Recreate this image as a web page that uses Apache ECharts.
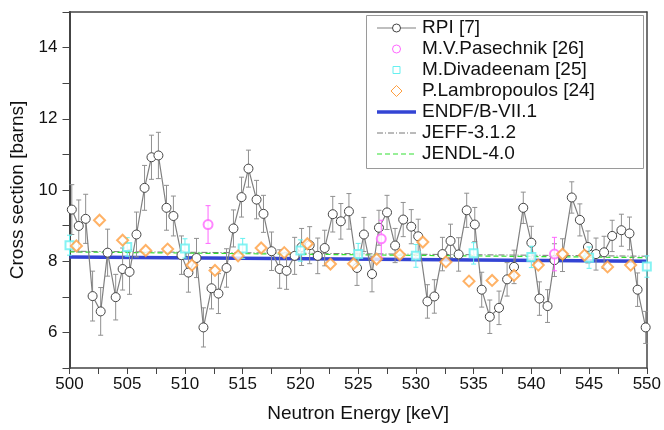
<!DOCTYPE html>
<html>
<head>
<meta charset="UTF-8">
<title>Cross section vs neutron energy</title>
<script src="https://cdn.jsdelivr.net/npm/echarts@6/dist/echarts.min.js"></script>
<style>
  html, body { margin: 0; padding: 0; background: #fff; }
  #chart { width: 664px; height: 430px; }
</style>
</head>
<body>
<div id="chart"></div>
<script>
// RPI [7] measurement
const rpiEnergy = [500.2, 500.8, 501.4, 502.0, 502.7, 503.3, 504.0, 504.6, 505.2, 505.8,
  506.5, 507.1, 507.7, 508.4, 509.0, 509.7, 510.3, 511.0, 511.6, 512.3,
  512.9, 513.6, 514.2, 514.9, 515.5, 516.2, 516.8, 517.5, 518.2, 518.8,
  519.5, 520.1, 520.8, 521.5, 522.1, 522.8, 523.5, 524.2, 524.9, 525.5,
  526.2, 526.8, 527.5, 528.2, 528.9, 529.6, 530.2, 531.0, 531.6, 532.3,
  533.0, 533.7, 534.4, 535.1, 535.7, 536.4, 537.2, 537.9, 538.5, 539.3,
  540.0, 540.7, 541.4, 542.0, 542.7, 543.5, 544.2, 544.9, 545.6, 546.3,
  547.0, 547.8, 548.5, 549.2, 549.9];
const rpiValue = [9.45, 8.99, 9.19, 7.02, 6.59, 8.24, 6.99, 7.78, 7.70, 8.75,
  10.06, 10.92, 10.97, 9.50, 9.27, 8.17, 7.68, 8.09, 6.14, 7.24,
  7.09, 7.81, 8.92, 9.80, 10.60, 9.73, 9.33, 8.28, 7.78, 7.73,
  8.15, 8.40, 8.45, 8.15, 8.37, 9.32, 9.12, 9.40, 7.81, 8.75,
  7.64, 8.94, 9.37, 8.44, 9.17, 8.97, 8.70, 6.87, 7.01, 8.20,
  8.57, 8.19, 9.43, 9.03, 7.20, 6.44, 6.69, 7.49, 7.84, 9.50,
  8.52, 6.95, 6.74, 8.03, 8.17, 9.79, 9.16, 8.40, 8.20, 8.25,
  8.71, 8.87, 8.78, 7.20, 6.14];
const rpiError = [0.70, 0.73, 0.69, 0.70, 0.67, 0.66, 0.64, 0.59, 0.63, 0.63,
  0.63, 0.62, 0.65, 0.63, 0.56, 0.54, 0.55, 0.55, 0.55, 0.58,
  0.56, 0.54, 0.52, 0.56, 0.52, 0.54, 0.52, 0.54, 0.54, 0.52,
  0.52, 0.52, 0.52, 0.50, 0.50, 0.50, 0.50, 0.50, 0.49, 0.48,
  0.50, 0.49, 0.48, 0.48, 0.48, 0.48, 0.48, 0.47, 0.47, 0.47,
  0.47, 0.47, 0.48, 0.48, 0.49, 0.47, 0.47, 0.47, 0.47, 0.44,
  0.46, 0.47, 0.46, 0.46, 0.46, 0.44, 0.45, 0.45, 0.45, 0.45,
  0.44, 0.45, 0.46, 0.47, 0.45];

// M.V.Pasechnik [26]
const pasEnergy = [512.0, 527.0, 542.0];
const pasValue = [9.03, 8.63, 8.20];
const pasError = [0.53, 0.52, 0.47];

// M.Divadeenam [25]
const divEnergy = [500, 505, 510, 515, 520, 525, 530, 535, 540, 545, 550];
const divValue = [8.45, 8.40, 8.36, 8.36, 8.30, 8.20, 8.15, 8.22, 8.12, 8.10, 7.85];
const divError = [0.28, 0.26, 0.27, 0.28, 0.30, 0.30, 0.32, 0.30, 0.30, 0.30, 0.30];

// P.Lambropoulos [24]
const lamEnergy = [500.6, 502.6, 504.6, 506.6, 508.5, 510.6, 512.6, 514.6, 516.6, 518.6,
  520.6, 522.6, 524.6, 526.6, 528.6, 530.6, 532.6, 534.6, 536.6, 538.5,
  540.6, 542.7, 544.6, 546.6, 548.6];
const lamValue = [8.43, 9.15, 8.59, 8.30, 8.34, 7.89, 7.74, 8.15, 8.37, 8.24,
  8.49, 7.92, 7.93, 8.06, 8.18, 8.54, 7.98, 7.44, 7.46, 7.60,
  7.89, 8.20, 8.17, 7.84, 7.89];

// evaluations
const evalEnergy = [500, 550];
const endfValue = [8.12, 8.00];
const jeffValue = [8.28, 8.14];
const jendlValue = [8.26, 8.10];

const FONT = 'Liberation Sans, Arial, sans-serif';
const C_RPI = '#808080', C_RPI_EDGE = '#444', C_PAS = '#ff66ff', C_DIV = '#66f0f0',
  C_LAM = '#ff9f40', C_ENDF = '#3344d4', C_JEFF = '#777', C_JENDL = '#33e033';
const DASH_JEFF = [6, 2, 1, 2], DASH_JENDL = [5, 3];

function pairs(xs, ys) {
  return xs.map((x, i) => [x, ys[i]]);
}
function bars(xs, ys, es) {
  return xs.map((x, i) => [x, ys[i] - es[i], ys[i] + es[i]]);
}

// error bar with small caps
function errorBar(color) {
  return function (params, api) {
    const x = api.value(0);
    const lo = api.coord([x, api.value(1)]);
    const hi = api.coord([x, api.value(2)]);
    const cap = 2.5;
    const style = { stroke: color, lineWidth: 1 };
    return {
      type: 'group',
      children: [
        { type: 'line', shape: { x1: lo[0], y1: lo[1], x2: hi[0], y2: hi[1] }, style: style },
        { type: 'line', shape: { x1: lo[0] - cap, y1: lo[1], x2: lo[0] + cap, y2: lo[1] }, style: style },
        { type: 'line', shape: { x1: hi[0] - cap, y1: hi[1], x2: hi[0] + cap, y2: hi[1] }, style: style }
      ]
    };
  };
}

// legend drawn by hand so the keys look like the original
const legendLabels = ['RPI [7]', 'M.V.Pasechnik [26]', 'M.Divadeenam [25]', 'P.Lambropoulos [24]',
  'ENDF/B-VII.1', 'JEFF-3.1.2', 'JENDL-4.0'];

function legendGraphic() {
  const box = { x: 366, y: 15, w: 277, h: 153 };
  const x1 = 377, x2 = 416, xm = 396.5, tx = 422, y0 = 28, step = 21;
  const els = [{
    type: 'rect', shape: { x: box.x + 0.5, y: box.y + 0.5, width: box.w, height: box.h },
    style: { fill: '#fff', stroke: '#9a9a9a', lineWidth: 1 }, z: 100
  }];
  legendLabels.forEach((label, i) => {
    const y = y0 + i * step;
    els.push({
      type: 'text', x: tx, y: y, z: 101,
      style: { text: label, font: '19px ' + FONT, fill: '#111', verticalAlign: 'middle' }
    });
    const line = (color, w, dash) => ({
      type: 'line', z: 101, shape: { x1: x1, y1: y, x2: x2, y2: y },
      style: { stroke: color, lineWidth: w, lineDash: dash || null }
    });
    if (i === 0) {
      els.push(line(C_RPI, 1.2));
      els.push({ type: 'circle', z: 102, shape: { cx: xm, cy: y, r: 4 }, style: { fill: '#fff', stroke: C_RPI_EDGE, lineWidth: 1 } });
    } else if (i === 1) {
      els.push({ type: 'circle', z: 102, shape: { cx: xm, cy: y, r: 4 }, style: { fill: 'none', stroke: C_PAS, lineWidth: 1 } });
    } else if (i === 2) {
      els.push({ type: 'rect', z: 102, shape: { x: xm - 3.5, y: y - 3.5, width: 7, height: 7 }, style: { fill: 'none', stroke: C_DIV, lineWidth: 1 } });
    } else if (i === 3) {
      els.push({ type: 'polygon', z: 102, shape: { points: [[xm, y - 5.5], [xm + 5.5, y], [xm, y + 5.5], [xm - 5.5, y]] }, style: { fill: 'none', stroke: C_LAM, lineWidth: 1 } });
    } else if (i === 4) {
      els.push(line(C_ENDF, 3.5));
    } else if (i === 5) {
      els.push(line(C_JEFF, 1, DASH_JEFF));
    } else {
      els.push(line(C_JENDL, 1.2, DASH_JENDL));
    }
  });
  return els;
}

var myChart = echarts.init(document.getElementById('chart'));

var option = {
  animation: false,
  grid: { left: 69.5, right: 16, top: 12, bottom: 62 },
  graphic: legendGraphic(),
  xAxis: [{
    type: 'value',
    min: 500, max: 550, interval: 2.5,
    name: 'Neutron Energy [keV]',
    nameLocation: 'middle',
    nameGap: 36,
    nameTextStyle: { fontFamily: FONT, fontSize: 19, color: '#111' },
    axisLine: { lineStyle: { color: '#444', width: 1.5 } },
    axisTick: { length: 6, lineStyle: { color: '#444' } },
    axisLabel: {
      margin: 8, fontFamily: FONT, fontSize: 17, color: '#111',
      formatter: v => (v % 5 === 0 ? String(v) : '')
    },
    splitLine: { show: false }
  }, {
    type: 'value', position: 'top', min: 500, max: 550,
    axisLine: { show: true, lineStyle: { color: '#444', width: 1.5 } },
    axisTick: { show: false }, axisLabel: { show: false }, splitLine: { show: false }
  }],
  yAxis: [{
    type: 'value',
    min: 5, max: 15, interval: 1,
    name: 'Cross section [barns]',
    nameLocation: 'middle',
    nameGap: 40,
    nameTextStyle: { fontFamily: FONT, fontSize: 19, color: '#111' },
    axisLine: { show: true, lineStyle: { color: '#444', width: 2 } },
    axisTick: { length: 7, lineStyle: { color: '#444' } },
    axisLabel: {
      margin: 12, fontFamily: FONT, fontSize: 17, color: '#111',
      formatter: v => (v % 2 === 0 ? String(v) : '')
    },
    splitLine: { show: false }
  }, {
    type: 'value', position: 'right', min: 5, max: 15,
    axisLine: { show: true, lineStyle: { color: '#444', width: 1.5 } },
    axisTick: { show: false }, axisLabel: { show: false }, splitLine: { show: false }
  }],
  series: [
    {
      name: 'ENDF/B-VII.1', type: 'line', symbol: 'none',
      data: pairs(evalEnergy, endfValue),
      lineStyle: { color: C_ENDF, width: 3.5 }, z: 2
    },
    {
      name: 'JEFF-3.1.2', type: 'line', symbol: 'none',
      data: pairs(evalEnergy, jeffValue),
      lineStyle: { color: C_JEFF, width: 1, type: DASH_JEFF }, z: 2
    },
    {
      name: 'JENDL-4.0', type: 'line', symbol: 'none',
      data: pairs(evalEnergy, jendlValue),
      lineStyle: { color: C_JENDL, width: 1.2, type: DASH_JENDL }, z: 2
    },
    {
      name: 'rpiErr', type: 'custom', renderItem: errorBar('#909090'),
      data: bars(rpiEnergy, rpiValue, rpiError), encode: { x: 0, y: [1, 2] }, z: 3
    },
    {
      name: 'RPI [7]', type: 'line',
      data: pairs(rpiEnergy, rpiValue),
      symbol: 'circle', symbolSize: 9,
      lineStyle: { color: C_RPI, width: 1.2 },
      itemStyle: { color: '#fff', borderColor: C_RPI_EDGE, borderWidth: 1 },
      z: 4
    },
    {
      name: 'pasErr', type: 'custom', renderItem: errorBar(C_PAS),
      data: bars(pasEnergy, pasValue, pasError), encode: { x: 0, y: [1, 2] }, z: 5
    },
    {
      name: 'M.V.Pasechnik [26]', type: 'scatter',
      data: pairs(pasEnergy, pasValue),
      symbol: 'emptyCircle', symbolSize: 9,
      itemStyle: { color: C_PAS, borderWidth: 1 }, z: 6
    },
    {
      name: 'divErr', type: 'custom', renderItem: errorBar(C_DIV),
      data: bars(divEnergy, divValue, divError), encode: { x: 0, y: [1, 2] }, z: 5
    },
    {
      name: 'M.Divadeenam [25]', type: 'scatter',
      data: pairs(divEnergy, divValue),
      symbol: 'emptyRect', symbolSize: 8,
      itemStyle: { color: C_DIV, borderWidth: 1 }, z: 6
    },
    {
      name: 'P.Lambropoulos [24]', type: 'scatter',
      data: pairs(lamEnergy, lamValue),
      symbol: 'emptyDiamond', symbolSize: 11,
      itemStyle: { color: C_LAM, borderWidth: 1 }, z: 6
    }
  ]
};

myChart.setOption(option);
</script>
</body>
</html>
